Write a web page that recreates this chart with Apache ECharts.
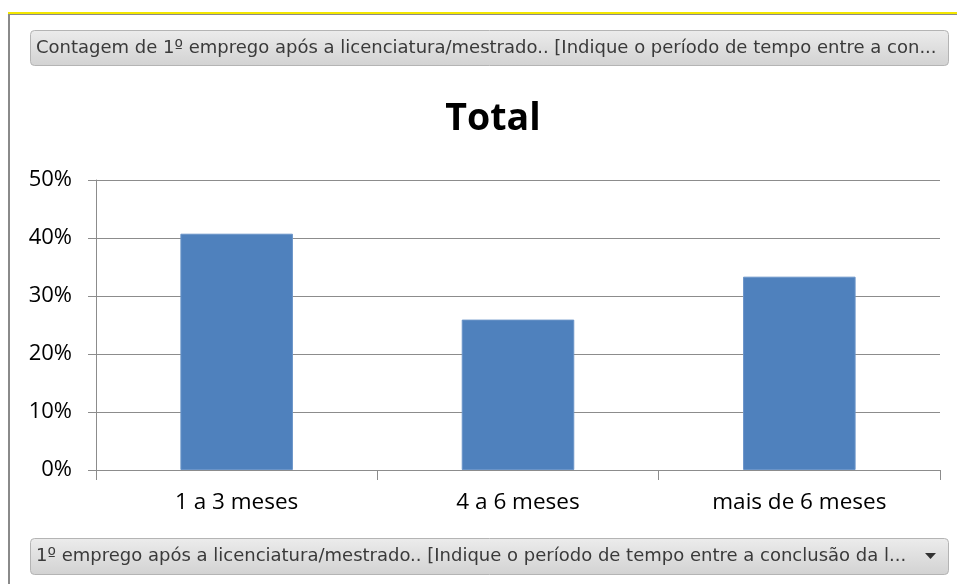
<!DOCTYPE html>
<html>
<head>
<meta charset="utf-8">
<script src="https://cdn.jsdelivr.net/npm/echarts@6/dist/echarts.min.js"></script>
<style>
html,body{margin:0;padding:0;background:#fff;}
#c{width:957px;height:584px;}
</style>
</head>
<body>
<div id="c"></div>
<script>
const categories = ['1 a 3 meses', '4 a 6 meses', 'mais de 6 meses'];
const values = [40.74, 25.93, 33.33];
const yTicks = [0, 10, 20, 30, 40, 50];
const chartTitle = 'Total';
const topButtonText = 'Contagem de 1º emprego após a licenciatura/mestrado.. [Indique o período de tempo entre a con...';
const bottomButtonText = '1º emprego após a licenciatura/mestrado.. [Indique o período de tempo entre a conclusão da l...';

const chart = echarts.init(document.getElementById('c'), null, {renderer: 'canvas'});
const btnFill = new echarts.graphic.LinearGradient(0, 0, 0, 1, [
  {offset: 0, color: '#ececec'}, {offset: 1, color: '#d2d2d2'}
]);
chart.setOption({
  animation: false,
  backgroundColor: '#fff',
  title: {
    text: chartTitle, left: 488, top: 95, textAlign: 'center',
    textStyle: {fontFamily: 'Open Sans', fontWeight: 'bold', fontSize: 37.5, color: '#000'}
  },
  grid: {left: 96, right: 17, top: 180, bottom: 114, containLabel: false},
  xAxis: {
    type: 'category', data: categories,
    axisLine: {show: true, lineStyle: {color: '#8c8c8c', width: 1}},
    axisTick: {show: true, length: 10, alignWithLabel: false, lineStyle: {color: '#8c8c8c'}},
    axisLabel: {margin: 21, fontFamily: 'Open Sans', fontSize: 22.5, color: '#000'}
  },
  yAxis: {
    type: 'value', min: 0, max: 50, interval: 10,
    axisLine: {show: true, lineStyle: {color: '#8c8c8c', width: 1}},
    axisTick: {show: true, length: 8, lineStyle: {color: '#8c8c8c'}},
    splitLine: {show: true, lineStyle: {color: '#8c8c8c', width: 1}},
    axisLabel: {
      margin: 24, fontFamily: 'Open Sans', fontSize: 22, color: '#000',
      formatter: v => yTicks.includes(v) ? v + '%' : ''
    }
  },
  series: [{
    type: 'bar', data: values, barWidth: '40%',
    itemStyle: {color: '#4f81bd', borderColor: '#6a94c8', borderWidth: 1}
  }],
  graphic: [
    {type: 'rect', shape: {x: 8, y: 12, width: 949, height: 2}, style: {fill: '#f2e600'}, silent: true},
    {type: 'rect', shape: {x: 8, y: 14, width: 949, height: 1}, style: {fill: '#8a8a8a'}, silent: true},
    {type: 'rect', shape: {x: 8, y: 14, width: 2, height: 570}, style: {fill: '#8a8a8a'}, silent: true},
    {type: 'rect', shape: {x: 30.5, y: 30.5, width: 918, height: 35, r: 4},
      style: {fill: btnFill, stroke: '#b4b4b4', lineWidth: 1}, silent: true},
    {type: 'text', left: 36, top: 39,
      style: {text: topButtonText, font: '18px "DejaVu Sans"', fill: '#3a3a3a'}, silent: true},
    {type: 'rect', shape: {x: 30.5, y: 538.5, width: 918, height: 36, r: 4},
      style: {fill: btnFill, stroke: '#b4b4b4', lineWidth: 1}, silent: true},
    {type: 'text', left: 36, top: 547,
      style: {text: bottomButtonText, font: '18px "DejaVu Sans"', fill: '#3a3a3a'}, silent: true},
    {type: 'polygon', shape: {points: [[925, 553], [936, 553], [930.5, 559]]},
      style: {fill: '#333'}, silent: true}
  ]
});
</script>
</body>
</html>
